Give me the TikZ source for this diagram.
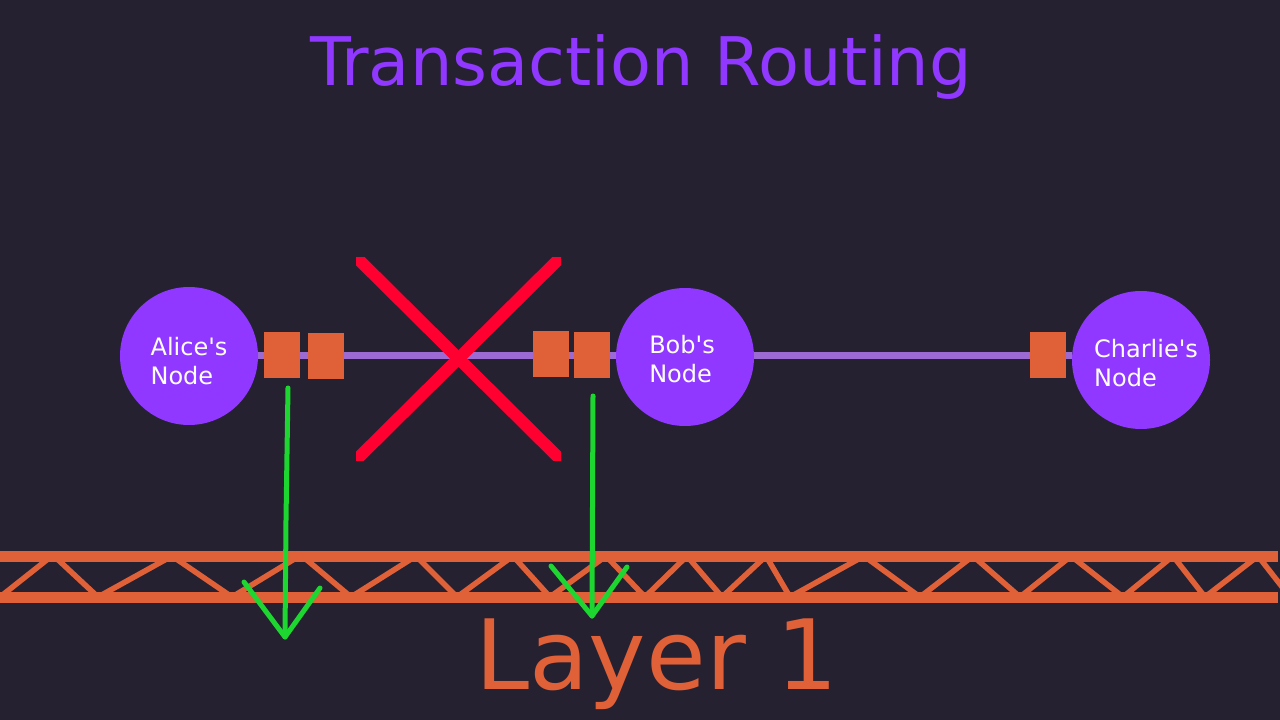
\documentclass[tikz,border=0pt]{standalone}
\usepackage{fontspec}
\setmainfont{DejaVu Sans}
\definecolor{bg}{HTML}{252130}
\definecolor{peerpurple}{HTML}{9038FF}
\definecolor{chanpurple}{HTML}{9B6BD3}
\definecolor{boxorange}{HTML}{E06038}
\definecolor{xred}{HTML}{FF0030}
\definecolor{flowgreen}{HTML}{1DD630}
\tikzset{
  peer/.style={circle, fill=peerpurple, minimum size=138pt, inner sep=0pt},
  peerlabel/.style={text=white, align=left, inner sep=0pt, font=\fontsize{24}{29}\selectfont},
  chanbox/.style={rectangle, fill=boxorange, minimum width=36pt, minimum height=46pt, inner sep=0pt},
  channel/.style={draw=chanpurple, line width=7pt},
  cross/.style={draw=xred, line width=12pt},
  flow/.style={draw=flowgreen, line width=5pt, line cap=round, line join=round},
  bar/.style={draw=boxorange, line width=11pt},
  brace/.style={draw=boxorange, line width=5.5pt},
  titletext/.style={text=peerpurple, font=\fontsize{67}{80}\selectfont, anchor=base, inner sep=0pt},
  layertext/.style={text=boxorange, font=\fontsize{97}{116}\selectfont, anchor=base, inner sep=0pt}
}
\begin{document}
\begin{tikzpicture}[x=1pt,y=-1pt]
\fill[bg] (0,0) rectangle (1280,720);
\useasboundingbox (0,0) rectangle (1280,720);

% title
\node[titletext] (title) at (641,85) {Transaction Routing};

% peers
\node[peer] (alice) at (189,356) {};
\node[peer] (bob) at (685,357) {};
\node[peer] (charlie) at (1141,360) {};
\node[peerlabel] (alicetxt) at ([shift={(0,5)}]alice.center) {Alice\textquotesingle s\\Node};
\node[peerlabel] (bobtxt) at ([shift={(-3,2)}]bob.center) {Bob\textquotesingle s\\Node};
\node[peerlabel] (charlietxt) at ([shift={(5,3)}]charlie.center) {Charlie\textquotesingle s\\Node};

% channels
\draw[channel] (alice.east |- 0,355) -- (bob.west |- 0,355);
\draw[channel] (bob.east |- 0,355) -- (charlie.west |- 0,355);

% channel boxes
\node[chanbox] (c1) at (282,355) {};
\node[chanbox] (c2) at (326,356) {};
\node[chanbox] (c3) at (551,354) {};
\node[chanbox] (c4) at (592,355) {};
\node[chanbox] (c5) at (1048,355) {};

% red cross
\coordinate (xc) at (458,358);
\begin{scope}
  \clip (356,257) rectangle (561,460);
  \draw[cross] (346,247) -- (571,470);
  \draw[cross] (571,247) -- (346,470);
\end{scope}

% layer 1 truss
\begin{scope}
  \clip (0,540) rectangle (1280,610);
  \draw[brace] (0,597) -- (53,555) -- (98,597) -- (172,556) -- (232,597) -- (301,555) -- (351,597) -- (416,556) -- (457,597) -- (513,556) -- (550,597) -- (606,556) -- (645,597) -- (687,556) -- (722,597) -- (766,556) -- (790,597) -- (864,556) -- (920,597) -- (973,556) -- (1020,597) -- (1071,556) -- (1123,597) -- (1173,556) -- (1205,597) -- (1258,556) -- (1290,597);
\end{scope}
\draw[bar] (0,556) -- (1278,556);
\draw[bar] (0,597.5) -- (1278,597.5);

\node[layertext] (layer) at (657,689) {Layer 1};

% green arrows
\coordinate (g1s) at (288,388);
\coordinate (g1k) at (286,520);
\coordinate (g1e) at (285,637);
\coordinate (g1l) at (244,582);
\coordinate (g1r) at (320,588);
\draw[flow] (g1s) -- (g1k) -- (g1e);
\draw[flow] (g1l) -- (g1e) -- (g1r);

\coordinate (g2s) at (593,396);
\coordinate (g2e) at (592,616);
\coordinate (g2l) at (551,566);
\coordinate (g2r) at (627,567);
\draw[flow] (g2s) -- (g2e);
\draw[flow] (g2l) -- (g2e) -- (g2r);
\end{tikzpicture}
\end{document}
